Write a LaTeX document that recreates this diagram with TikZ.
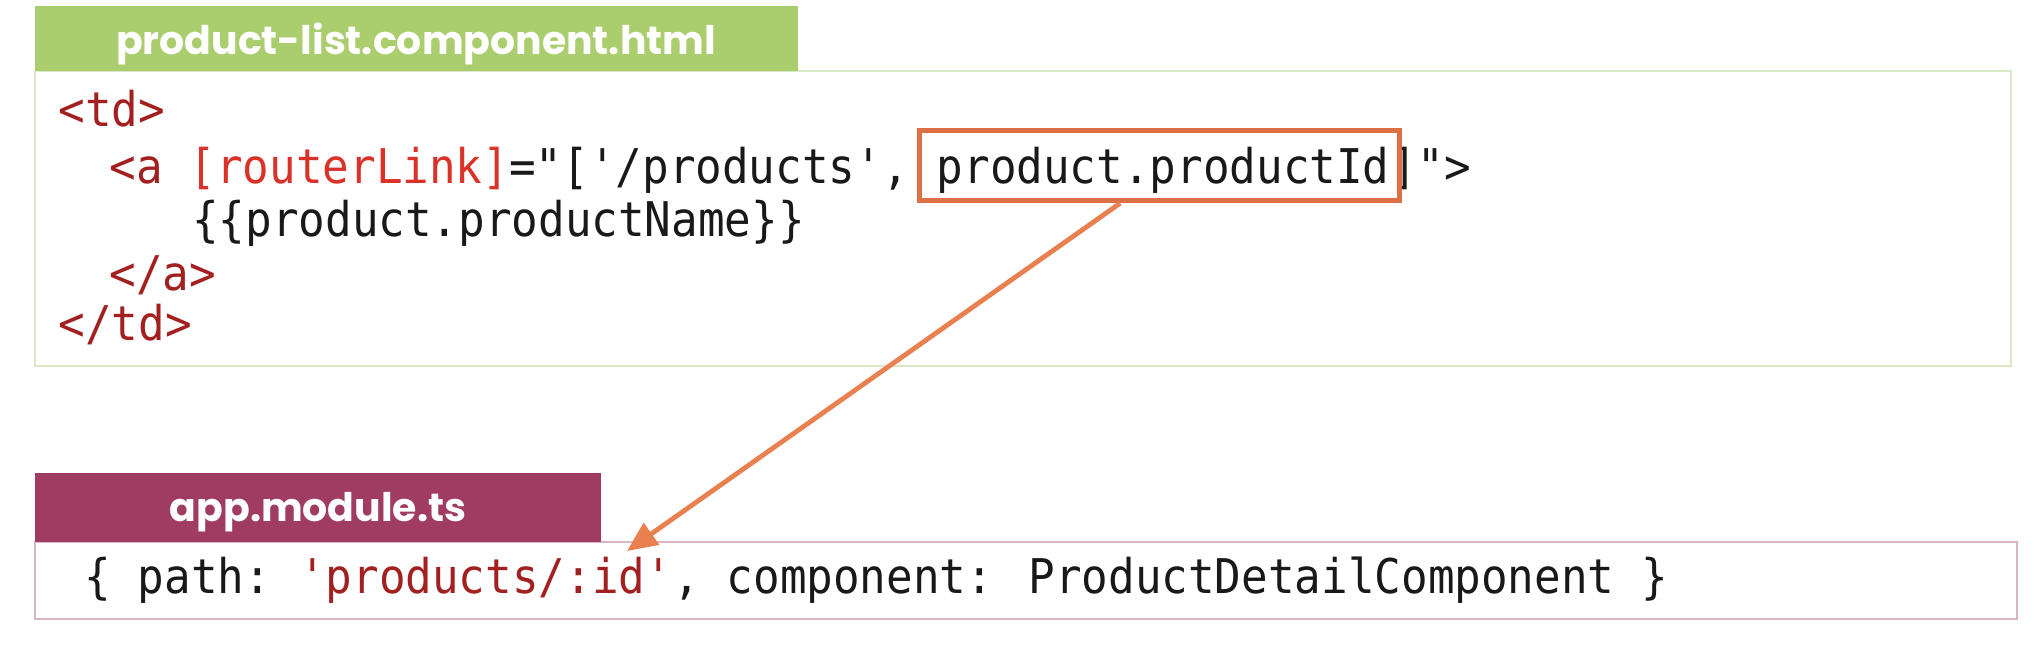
\documentclass[tikz,border=0pt]{standalone}
\usepackage{fontspec}
\setmainfont{Poppins}
\newfontfamily\codefont[Ligatures=TeXOff,FakeStretch=0.925]{DejaVu Sans Mono}
\usetikzlibrary{calc,fit,arrows.meta}
\definecolor{hdrgreen}{RGB}{170,205,110}
\definecolor{boxgreen}{RGB}{218,232,198}
\definecolor{hdrplum}{RGB}{160,60,98}
\definecolor{boxplum}{RGB}{218,182,196}
\definecolor{hlorange}{RGB}{222,112,70}
\definecolor{linkorange}{RGB}{232,128,80}
\definecolor{tagred}{RGB}{163,32,32}
\definecolor{attrred}{RGB}{218,50,40}
\definecolor{codeblack}{RGB}{25,25,25}
\tikzset{
  hdr/.style={text=white, font=\fontsize{11.2}{13}\selectfont\bfseries, inner sep=0pt},
  code/.style={font=\codefont\fontsize{13.6}{16}\selectfont, text=codeblack, inner sep=0pt, anchor=base west},
  tag/.style={code, text=tagred},
  htmlbox/.style={draw=boxgreen, line width=0.025cm},
  tsbox/.style={draw=boxplum, line width=0.025cm},
  hlbox/.style={draw=hlorange, line width=0.05cm, inner xsep=0.13cm, inner ysep=0.11cm, xshift=-0.04cm, yshift=0.04cm},
  link/.style={draw=linkorange, line width=0.048cm, -{Triangle[length=0.3cm,width=0.26cm]}}
}
\begin{document}
\begin{tikzpicture}[x=0.01cm, y=-0.01cm]
    \useasboundingbox (0,0) rectangle (2034,644);
    % draw the html panel
    \draw[htmlbox] (35,71) rectangle (2011,366);
    \fill[hdrgreen] (35,6) rectangle (798,71);
    \node[hdr] (hdrhtml) at (416,44) {product-list.component.html};
    % html code lines
    \node[tag] (td) at (58,126) {<td>};
    \node[code] (aopen) at (109,183) {\textcolor{tagred}{<a} \textcolor{attrred}{[routerLink]}="['/products',\ \mbox{}};
    \node[code] (pid) at (aopen.base east) {product.productId};
    \node[code] (aclose) at (pid.base east) {]">};
    \node[code] (pname) at (191.5,236) {\{\{product.productName\}\}};
    \node[tag] (aend) at (109,290) {</a>};
    \node[tag] (tdend) at (58,340) {</td>};
    % draw the module panel
    \draw[tsbox] (35,542) rectangle (2017,619);
    \fill[hdrplum] (35,473) rectangle (601,542);
    \node[hdr] (hdrts) at (318,512) {app.module.ts};
    \node[code] (route) at (84,593) {\{ path:\ \mbox{}};
    \node[code, text=tagred] (rpath) at (route.base east) {'products/:id'};
    \node[code] (rcomp) at (rpath.base east) {, component: ProductDetailComponent \}};
    % highlight and link
    \node[hlbox, fit=(pid)] (hl) {};
    \coordinate (tip) at (627,551);
    \draw[link] ($(hl.south)+(-39,0)$) -- (tip);
\end{tikzpicture}
\end{document}
